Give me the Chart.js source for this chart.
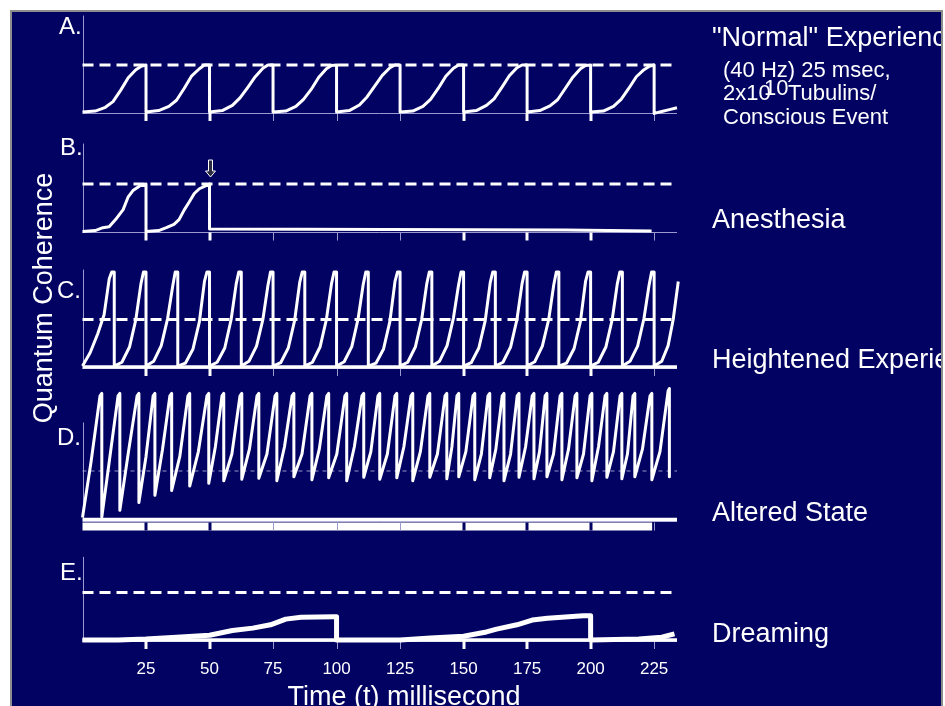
<!DOCTYPE html>
<html>
<head>
<meta charset="utf-8">
<script src="https://cdn.jsdelivr.net/npm/chart.js@4.4.1/dist/chart.umd.min.js"></script>
<style>
  html, body { margin: 0; padding: 0; background: #fff; overflow: hidden; }
  #frame { position: absolute; left: 10px; top: 10px; width: 929px; height: 700px;
           background: #020262; border: 2px solid #8c8c8c; border-bottom: none; }
  canvas { position: absolute; left: 0; top: 0; }
</style>
</head>
<body>
<div id="frame"></div>
<canvas id="pA" width="945" height="706"></canvas>
<canvas id="pB" width="945" height="706"></canvas>
<canvas id="pC" width="945" height="706"></canvas>
<canvas id="pD" width="945" height="706"></canvas>
<canvas id="pE" width="945" height="706"></canvas>
<script>
// ---- data (time in ms, coherence in units of the threshold) ----
const tickValues = [25, 50, 75, 100, 125, 150, 175, 200, 225];
const boldTicks = [25, 50, 150, 175, 200];
const xRange = [0, 234];
const thresholdLine = [1, 1];
const baselineLine = [0, 0];

const panelLabels = ['A.', 'B.', 'C.', 'D.', 'E.'];
const stateLabels = ['"Normal" Experience', 'Anesthesia', 'Heightened Experience', 'Altered State', 'Dreaming'];

// A: normal, 40 Hz
const aTimes = [
  0, 5, 9, 12, 15, 18, 21, 23, 25,
  25, 30, 34, 37, 40, 43, 46, 48, 50,
  50, 55, 59, 62, 65, 68, 71, 73, 75,
  75, 80, 84, 87, 90, 93, 96, 98, 100,
  100, 105, 109, 112, 115, 118, 121, 123, 125,
  125, 130, 134, 137, 140, 143, 146, 148, 150,
  150, 155, 159, 162, 165, 168, 171, 173, 175,
  175, 180, 184, 187, 190, 193, 196, 198, 200,
  200, 205, 209, 212, 215, 218, 221, 223, 225,
  225, 228, 231, 234
];
const aValues = [
  0, 0.02, 0.1, 0.22, 0.46, 0.73, 0.9, 0.97, 1,
  0, 0.03, 0.12, 0.25, 0.5, 0.77, 0.92, 1, 1,
  0, 0.03, 0.14, 0.3, 0.52, 0.75, 0.93, 1, 1,
  0, 0.02, 0.12, 0.27, 0.48, 0.74, 0.92, 0.99, 1,
  0, 0.03, 0.15, 0.32, 0.55, 0.78, 0.94, 1, 1,
  0, 0.02, 0.12, 0.27, 0.5, 0.76, 0.93, 1, 1,
  0, 0.03, 0.14, 0.28, 0.52, 0.77, 0.94, 1, 1,
  0, 0.03, 0.13, 0.26, 0.5, 0.74, 0.92, 0.99, 1,
  0, 0.02, 0.12, 0.27, 0.5, 0.75, 0.9, 0.97, 1,
  -0.03, 0.01, 0.05, 0.09
];

// B: anesthesia, coherence stops after 50 ms
const bTimes = [0, 5, 8, 10.5, 13, 16, 18, 20, 22.5, 25,
  25, 30, 33, 36, 38, 40, 42, 44, 46, 48, 50,
  50, 120, 190, 224];
const bValues = [0, 0.02, 0.08, 0.1, 0.25, 0.46, 0.73, 0.87, 0.96, 1,
  0, 0.02, 0.08, 0.15, 0.25, 0.45, 0.62, 0.8, 0.9, 0.95, 1,
  0.05, 0.04, 0.03, 0.01];

// C: heightened experience, 80 Hz
const cTimes = [
  0, 3, 6, 8.5, 10.5, 11.5, 12.5,
  12.5, 15.5, 18.5, 21, 23, 24, 25,
  25, 28, 31, 33.5, 35.5, 36.5, 37.5,
  37.5, 40.5, 43.5, 46, 48, 49, 50,
  50, 53, 56, 58.5, 60.5, 61.5, 62.5,
  62.5, 65.5, 68.5, 71, 73, 74, 75,
  75, 78, 81, 83.5, 85.5, 86.5, 87.5,
  87.5, 90.5, 93.5, 96, 98, 99, 100,
  100, 103, 106, 108.5, 110.5, 111.5, 112.5,
  112.5, 115.5, 118.5, 121, 123, 124, 125,
  125, 128, 131, 133.5, 135.5, 136.5, 137.5,
  137.5, 140.5, 143.5, 146, 148, 149, 150,
  150, 153, 156, 158.5, 160.5, 161.5, 162.5,
  162.5, 165.5, 168.5, 171, 173, 174, 175,
  175, 178, 181, 183.5, 185.5, 186.5, 187.5,
  187.5, 190.5, 193.5, 196, 198, 199, 200,
  200, 203, 206, 208.5, 210.5, 211.5, 212.5,
  212.5, 215.5, 218.5, 221, 223, 224, 225,
  225, 228, 230.5, 232.5, 234.5, 235.5, 236.5,
  236.5
];
const cValues = [
  0.02, 0.3, 0.7, 1.1, 1.85, 2, 2,
  0.02, 0.1, 0.42, 1.0, 1.75, 2, 2,
  0.02, 0.12, 0.45, 1.02, 1.7, 2, 2,
  0.02, 0.08, 0.38, 0.95, 1.8, 2, 2,
  0.02, 0.1, 0.4, 1.0, 1.75, 2, 2,
  0.02, 0.12, 0.44, 1.0, 1.72, 2, 2,
  0.02, 0.09, 0.4, 0.98, 1.78, 2, 2,
  0.02, 0.1, 0.42, 1.0, 1.75, 2, 2,
  0.02, 0.11, 0.43, 1.02, 1.74, 2, 2,
  0.02, 0.08, 0.38, 0.96, 1.8, 2, 2,
  0.02, 0.1, 0.42, 1.0, 1.75, 2, 2,
  0.02, 0.12, 0.45, 1.03, 1.72, 2, 2,
  0.02, 0.09, 0.4, 0.97, 1.78, 2, 2,
  0.02, 0.1, 0.42, 1.0, 1.75, 2, 2,
  0.02, 0.11, 0.44, 1.0, 1.73, 2, 2,
  0.02, 0.08, 0.39, 0.96, 1.8, 2, 2,
  0.02, 0.1, 0.42, 1.0, 1.75, 2, 2,
  0.02, 0.12, 0.44, 1.02, 1.72, 2, 2,
  0.02, 0.12, 0.45, 1.0, 1.8, 2, 2,
  0
];

// D: altered state, fast cycles that never fully decohere
const dTimes = [
  0, 3.4, 6.9, 7.6,
  7.6, 10.8, 14.0, 14.7,
  14.7, 18.1, 21.5, 22.2,
  22.2, 25.0, 27.8, 28.5,
  28.5, 31.5, 34.4, 35.1,
  35.1, 38.3, 41.5, 42.2,
  42.2, 45.6, 49.0, 49.7,
  49.7, 52.3, 54.9, 55.6,
  55.6, 58.8, 62.0, 62.7,
  62.7, 65.7, 68.7, 69.4,
  69.4, 72.6, 75.8, 76.5,
  76.5, 79.5, 82.5, 83.2,
  83.2, 86.4, 89.6, 90.3,
  90.3, 93.2, 96.2, 96.9,
  96.9, 100.1, 103.3, 104.0,
  104.0, 107.0, 110.0, 110.7,
  110.7, 113.5, 116.3, 117.0,
  117.0, 120.0, 123.0, 123.7,
  123.7, 126.5, 129.3, 130.0,
  130.0, 133.0, 136.0, 136.7,
  136.7, 139.7, 142.7, 143.4,
  143.4, 145.4, 147.4, 148.1,
  148.1, 150.9, 153.7, 154.4,
  154.4, 157.0, 159.6, 160.3,
  160.3, 162.7, 165.2, 165.9,
  165.9, 168.5, 171.1, 171.8,
  171.8, 174.4, 177.0, 177.7,
  177.7, 179.9, 182.1, 182.8,
  182.8, 185.4, 188.0, 188.7,
  188.7, 191.3, 193.9, 194.6,
  194.6, 197.2, 199.8, 200.5,
  200.5, 203.1, 205.7, 206.4,
  206.4, 209.0, 211.6, 212.3,
  212.3, 214.5, 216.7, 217.4,
  217.4, 220.4, 223.4, 224.1,
  224.1, 227.3, 230.5, 231.0,
  231.0
];
const dValues = [
  0.04, 1.2, 2.55, 2.6,
  0.05, 1.3, 2.55, 2.6,
  0.19, 1.4, 2.55, 2.6,
  0.35, 1.3, 2.55, 2.6,
  0.5, 1.45, 2.55, 2.6,
  0.6, 1.3, 2.55, 2.6,
  0.69, 1.4, 2.55, 2.6,
  0.75, 1.5, 2.55, 2.6,
  0.8, 1.35, 2.55, 2.6,
  0.83, 1.45, 2.55, 2.6,
  0.85, 1.35, 2.55, 2.6,
  0.8, 1.5, 2.55, 2.6,
  0.88, 1.35, 2.55, 2.6,
  0.82, 1.45, 2.55, 2.6,
  0.86, 1.35, 2.55, 2.6,
  0.8, 1.5, 2.55, 2.6,
  0.87, 1.4, 2.55, 2.6,
  0.83, 1.35, 2.55, 2.6,
  0.86, 1.5, 2.55, 2.6,
  0.8, 1.4, 2.55, 2.6,
  0.87, 1.35, 2.55, 2.6,
  0.84, 1.5, 2.55, 2.6,
  0.88, 1.4, 2.55, 2.6,
  0.82, 1.35, 2.55, 2.6,
  0.86, 1.45, 2.55, 2.6,
  0.8, 1.35, 2.55, 2.6,
  0.87, 1.5, 2.55, 2.6,
  0.84, 1.4, 2.55, 2.6,
  0.88, 1.35, 2.55, 2.6,
  0.82, 1.45, 2.55, 2.6,
  0.86, 1.35, 2.55, 2.6,
  0.8, 1.5, 2.55, 2.6,
  0.87, 1.4, 2.55, 2.6,
  0.84, 1.35, 2.55, 2.6,
  0.88, 1.45, 2.55, 2.6,
  0.82, 1.4, 2.65, 2.7,
  0.88
];

// E: dreaming, slow sub-threshold cycles
const eTimes = [0, 14, 25, 37, 50, 59, 67, 74, 80, 86, 99, 100,
  100, 125, 137, 150, 159, 163, 171, 177, 183, 197, 200,
  200, 219, 228, 233];
const eValues = [0, 0, 0.02, 0.06, 0.1, 0.2, 0.25, 0.32, 0.44, 0.48, 0.49, 0.49,
  0, 0, 0.04, 0.08, 0.17, 0.23, 0.32, 0.42, 0.46, 0.51, 0.51,
  0, 0.02, 0.06, 0.13];

// ---- drawing ----
const FONT = '"Liberation Sans", Arial, Helvetica, sans-serif';
const NAVY = '#020262';
const axisGrey = '#9a9ad0';

function pts(xs, ys) { return xs.map((x, i) => ({ x: x, y: ys[i] })); }

const axesPlugin = {
  id: 'panelAxes',
  beforeDatasetsDraw(chart, args, opts) {
    const { ctx, scales: { x, y } } = chart;
    const x0 = x.getPixelForValue(0), x1 = x.getPixelForValue(234);
    const yz = y.getPixelForValue(0), yt = y.getPixelForValue(y.max);
    ctx.save();
    ctx.strokeStyle = axisGrey;
    ctx.lineWidth = 1;
    ctx.beginPath();
    ctx.moveTo(Math.round(x0) + 0.5, yt);
    ctx.lineTo(Math.round(x0) + 0.5, yz);
    ctx.moveTo(x0, Math.round(yz) + 1.5);
    ctx.lineTo(x1, Math.round(yz) + 1.5);
    ctx.stroke();
    if (opts.band) {
      // panel D: white strip under the baseline, ticks cut out of it
      ctx.fillStyle = '#ffffff';
      ctx.fillRect(x0, yz + 3, x.getPixelForValue(225) - x0 - 2, 8);
    }
    tickValues.forEach(t => {
      const px = Math.round(x.getPixelForValue(t));
      const bold = boldTicks.includes(t);
      ctx.strokeStyle = bold ? (opts.band ? NAVY : '#ffffff') : axisGrey;
      ctx.lineWidth = bold ? 3 : 1;
      const off = bold ? 0 : 0.5;
      ctx.beginPath();
      ctx.moveTo(px + off, yz + (opts.band ? 3 : 1));
      ctx.lineTo(px + off, yz + (opts.band ? 11 : 9));
      ctx.stroke();
    });
    ctx.restore();
  }
};

const arrowPlugin = {
  id: 'arrow',
  afterDatasetsDraw(chart) {
    const { ctx, scales: { x, y } } = chart;
    const px = Math.round(x.getPixelForValue(50)) + 0.5;
    const py = y.getPixelForValue(1) - 7;
    ctx.save();
    ctx.beginPath();
    ctx.moveTo(px, py);
    ctx.lineTo(px - 5, py - 6);
    ctx.lineTo(px - 2, py - 6);
    ctx.lineTo(px - 2, py - 17);
    ctx.lineTo(px + 2, py - 17);
    ctx.lineTo(px + 2, py - 6);
    ctx.lineTo(px + 5, py - 6);
    ctx.closePath();
    ctx.fillStyle = '#2a2a40';
    ctx.fill();
    ctx.strokeStyle = '#ffffff';
    ctx.lineWidth = 1;
    ctx.stroke();
    ctx.restore();
  }
};

const textPlugin = {
  id: 'texts',
  afterDraw(chart) {
    const { ctx, scales: { x } } = chart;
    ctx.save();
    ctx.beginPath();
    ctx.rect(12, 12, 929, 694);
    ctx.clip();
    ctx.fillStyle = '#ffffff';
    ctx.textBaseline = 'alphabetic';

    ctx.font = '24px ' + FONT;
    const letterX = [59, 60, 57, 57, 60];
    const letterY = [34, 155, 298, 445, 580];
    panelLabels.forEach((s, i) => ctx.fillText(s, letterX[i], letterY[i]));

    ctx.font = '27px ' + FONT;
    const stateY = [46, 228, 368, 521, 642];
    stateLabels.forEach((s, i) => ctx.fillText(s, 712, stateY[i]));

    ctx.font = '22px ' + FONT;
    ctx.fillText('(40 Hz) 25 msec,', 723, 77);
    ctx.fillText('2x10', 723, 100);
    ctx.fillText('10', 764, 95);
    ctx.fillText('Tubulins/', 788, 100);
    ctx.fillText('Conscious Event', 723, 124);

    ctx.font = '17px ' + FONT;
    ctx.textAlign = 'center';
    tickValues.forEach(t => ctx.fillText(String(t), x.getPixelForValue(t), 674));

    ctx.font = '27px ' + FONT;
    ctx.fillText('Time (t) millisecond', 404, 705);

    ctx.translate(52, 298);
    ctx.rotate(-Math.PI / 2);
    ctx.fillText('Quantum Coherence', 0, 0);
    ctx.restore();
  }
};

// panel placement: pixel of value 0 and of the top of the y axis
const panels = [
  { id: 'pA', top: 15.6, zero: 112, yMax: 2.05, times: aTimes, values: aValues, lw: 3, base: false, dash: 'bold' },
  { id: 'pB', top: 143.6, zero: 231.5, yMax: 1.85, times: bTimes, values: bValues, lw: 3, base: false, dash: 'bold', extra: [arrowPlugin] },
  { id: 'pC', top: 269.6, zero: 367, yMax: 2.05, times: cTimes, values: cValues, lw: 3, base: true, dash: 'bold' },
  { id: 'pD', top: 422.5, zero: 519.5, yMax: 2, times: dTimes, values: dValues, lw: 3, base: true, dash: 'thin', band: true },
  { id: 'pE', top: 556.9, zero: 640, yMax: 1.75, times: eTimes, values: eValues, lw: 5, base: true, dash: 'bold', extra: [textPlugin] }
];

function makePanel(p) {
  const common = { borderColor: '#ffffff', pointRadius: 0, fill: false, tension: 0, clip: false,
                   borderJoinStyle: 'round', borderCapStyle: 'butt' };
  const ds = [Object.assign({}, common, { data: pts(p.times, p.values), borderWidth: p.lw })];
  if (p.base) ds.push(Object.assign({}, common, { data: pts(xRange, baselineLine), borderWidth: 3.5 }));
  if (p.dash === 'bold') {
    ds.push(Object.assign({}, common, { data: pts(xRange, thresholdLine), borderWidth: 3, borderDash: [11, 6] }));
  } else {
    ds.push(Object.assign({}, common, { data: pts(xRange, thresholdLine), borderWidth: 1,
                                         borderDash: [4, 4], borderColor: 'rgba(175,175,215,0.85)' }));
  }
  return new Chart(document.getElementById(p.id), {
    type: 'line',
    data: { datasets: ds },
    options: {
      responsive: false,
      animation: false,
      devicePixelRatio: 1,
      layout: { padding: { left: 82.5, right: 945 - 677, top: p.top, bottom: 706 - p.zero } },
      scales: {
        x: { type: 'linear', display: false, min: 0, max: 234 },
        y: { display: false, min: 0, max: p.yMax }
      },
      plugins: { legend: { display: false }, tooltip: { enabled: false }, panelAxes: { band: !!p.band } }
    },
    plugins: [axesPlugin].concat(p.extra || [])
  });
}

panels.forEach(makePanel);
</script>
</body>
</html>
